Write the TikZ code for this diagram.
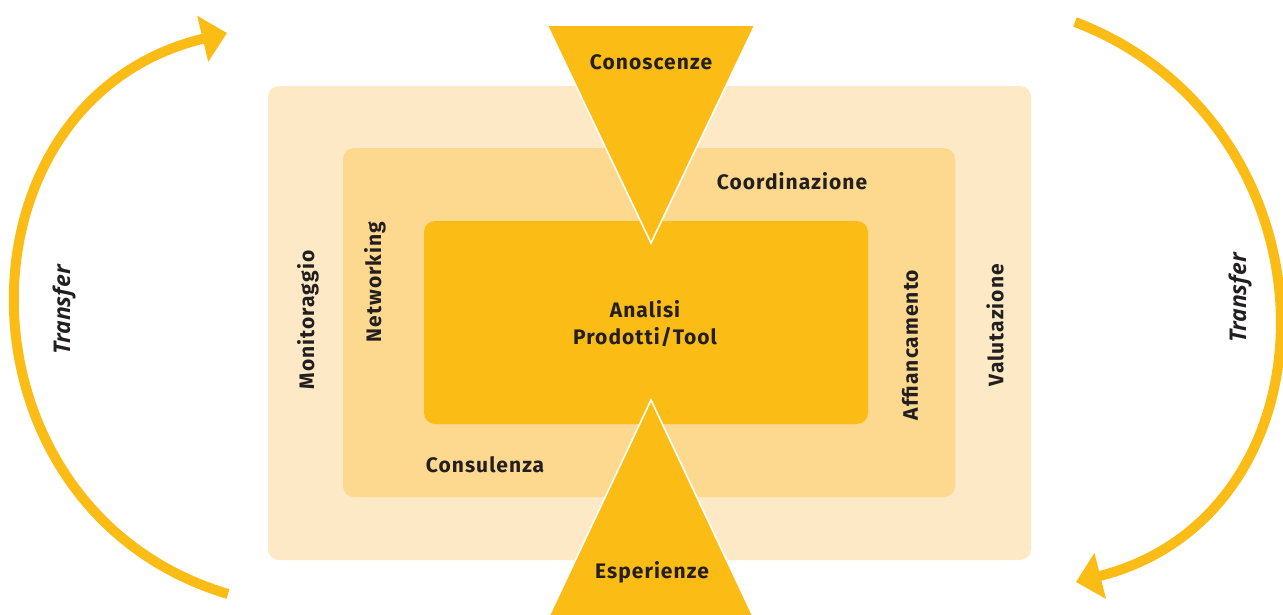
\documentclass[tikz,border=0pt]{standalone}
\usepackage{fontspec}
\setmainfont{Fira Sans}[LetterSpace=5]
\newfontfamily\transferfont{Open Sans}
\usepackage{tikz}
\usetikzlibrary{arrows.meta}

\definecolor{ringA}{HTML}{FDE9C5}
\definecolor{ringB}{HTML}{FDD88F}
\definecolor{core}{HTML}{FBBC15}
\definecolor{ink}{HTML}{231F20}

\tikzset{
  ring/.style={rounded corners=11pt,inner sep=0pt},
  lab/.style={font=\fontsize{21}{25}\selectfont\bfseries,text=ink,inner sep=0pt,align=center},
  vlab/.style={lab,rotate=90},
  translab/.style={font=\fontsize{23}{27}\selectfont\transferfont\bfseries\itshape,text=ink,rotate=90,inner sep=0pt},
  loop/.style={draw=core,line width=10pt,-{Triangle[length=25pt,width=46pt]}}
}

\begin{document}
\begin{tikzpicture}[x=1pt,y=-1pt]
      \useasboundingbox (0,0) rectangle (1283,614);
      % nested boxes
      \node[ring,fill=ringA,minimum width=763pt,minimum height=474pt] (outer) at (649.5,323) {};
      \node[ring,fill=ringB,minimum width=612pt,minimum height=349pt] (middle) at (649,322.5) {};
      \node[ring,fill=core,minimum width=444pt,minimum height=203pt] (inner) at (646,322.5) {};
      % knowledge funnel and experience wedge
      \coordinate (topapex) at (651,243);
      \coordinate (botapex) at (651,400);
      \draw[fill=core,draw=white,line width=1.6pt] (547,25) -- (755,25) -- (topapex) -- cycle;
      \draw[fill=core,draw=white,line width=1.6pt] (549,616) -- (753,616) -- (botapex) -- cycle;
      % transfer loops
      \coordinate (ls) at (228,594);
      \coordinate (le) at (227,33);
      \coordinate (rs) at (1075,22);
      \coordinate (re) at (1076,582);
      \draw[loop] (ls) .. controls (-53,510) and (-54,100) .. (le);
      \draw[loop] (rs) .. controls (1345,125) and (1346,514) .. (re);
      % labels
      \node[lab] (conoscenze) at (651,62) {Conoscenze};
      \node[lab] (esperienze) at (652,572) {Esperienze};
      \node[lab] (coordinazione) at (792,181) {Coordinazione};
      \node[lab] (consulenza) at (485,465) {Consulenza};
      \node[lab] (analisi) at (645,324) {Analisi\\[2pt]Prodotti/Tool};
      \node[vlab] (networking) at (375,282) {Networking};
      \node[vlab] (monitoraggio) at (308,320) {Monitoraggio};
      \node[vlab] (affiancamento) at (910,345) {Affiancamento};
      \node[vlab] (valutazione) at (995,325) {Valutazione};
      \node[translab] (transferL) at (64,310) {Transfer};
      \node[translab] (transferR) at (1240,298) {Transfer};
    \end{tikzpicture}
\end{document}
